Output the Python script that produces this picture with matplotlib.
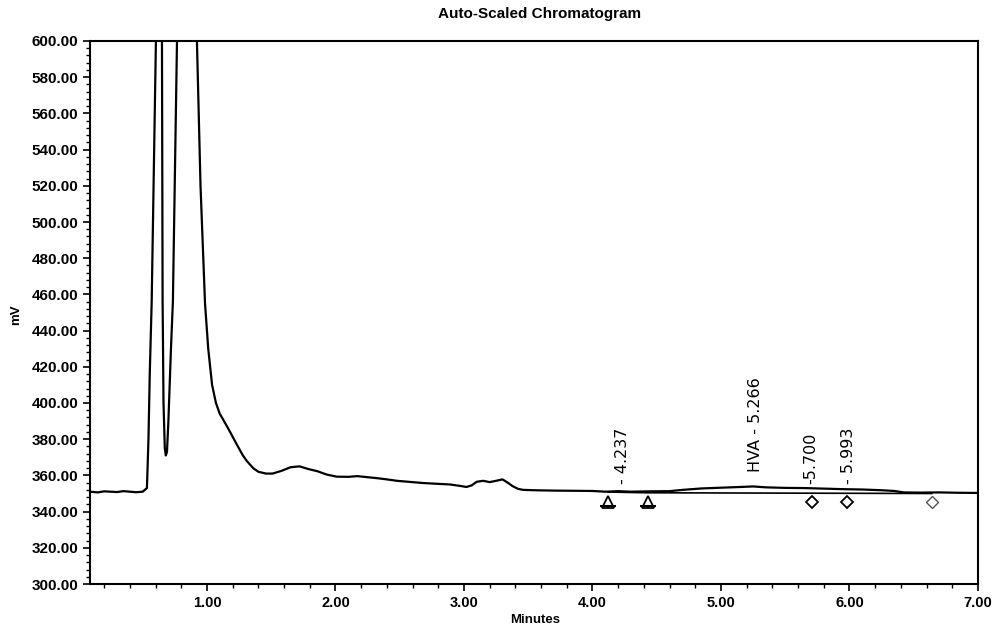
import matplotlib
matplotlib.use("Agg")
import matplotlib.pyplot as plt
from matplotlib.ticker import MultipleLocator, FormatStrFormatter

# ---- data ----
time_min = [0.09, 0.15, 0.20, 0.25, 0.30, 0.35, 0.40, 0.45, 0.50, 0.533,
            0.545, 0.555, 0.57, 0.603, 0.625, 0.650, 0.655, 0.662, 0.672, 0.680,
            0.689, 0.700, 0.720, 0.735, 0.767, 0.80, 0.85, 0.90, 0.922, 0.95,
            0.985, 1.01, 1.04, 1.07, 1.10, 1.125, 1.18, 1.233, 1.28, 1.31,
            1.36, 1.40, 1.46, 1.51, 1.58, 1.65, 1.72, 1.79, 1.86, 1.93,
            2.01, 2.10, 2.17, 2.25, 2.32, 2.40, 2.48, 2.58, 2.68, 2.78,
            2.89, 2.97, 3.02, 3.06, 3.10, 3.15, 3.20, 3.25, 3.30, 3.34,
            3.38, 3.42, 3.46, 3.55, 3.70, 3.85, 4.00, 4.10, 4.20, 4.30,
            4.45, 4.60, 4.70, 4.85, 5.00, 5.15, 5.25, 5.35, 5.50, 5.65,
            5.80, 5.95, 6.10, 6.25, 6.35, 6.42, 6.55, 6.70, 6.85, 7.00]
signal_mv = [351.0, 350.6, 351.2, 351.0, 350.8, 351.3, 351.0, 350.7, 351.0, 353.0,
             380.0, 416.0, 456.0, 600.0, 720.0, 600.0, 456.0, 400.0, 375.0, 371.0,
             373.0, 390.0, 430.0, 456.0, 600.0, 760.0, 820.0, 700.0, 600.0, 520.0,
             455.0, 430.0, 410.0, 400.0, 394.0, 391.0, 384.0, 377.0, 371.0, 368.0,
             364.0, 362.0, 361.0, 361.0, 362.5, 364.5, 365.0, 363.5, 362.3, 360.5,
             359.3, 359.2, 359.6, 359.0, 358.5, 357.8, 357.0, 356.4, 355.8, 355.4,
             355.0, 354.2, 353.6, 354.5, 356.5, 357.0, 356.3, 357.0, 357.8, 356.0,
             354.0, 352.6, 352.0, 351.8, 351.6, 351.5, 351.4, 351.0, 351.3, 351.0,
             351.2, 351.3, 352.0, 352.8, 353.2, 353.6, 353.9, 353.4, 353.1, 353.0,
             352.7, 352.4, 352.2, 351.8, 351.4, 350.6, 350.5, 350.6, 350.4, 350.3]

peak_times = [4.237, 5.266, 5.700, 5.993]
peak_labels = ["- 4.237", "HVA - 5.266", "-5.700", "- 5.993"]
peak_label_base = [355.0, 362.0, 355.0, 355.0]

start_marks_t = [4.12, 4.43]
end_marks_t = [5.71, 5.98, 6.64]
baseline_t = [4.12, 4.43, 6.64]
baseline_mv = [350.8, 350.4, 350.0]

x_ticks = [1.0, 2.0, 3.0, 4.0, 5.0, 6.0, 7.0]
y_ticks = [300, 320, 340, 360, 380, 400, 420, 440, 460, 480, 500, 520, 540, 560, 580, 600]

plt.rcParams["font.family"] = ["Liberation Sans", "DejaVu Sans"]

fig = plt.figure(figsize=(9.95, 6.30), dpi=100)
ax = fig.add_axes([90 / 995, 1 - 584 / 630, (978 - 90) / 995, (584 - 41) / 630])

ax.plot(time_min, signal_mv, color="black", lw=1.6)
ax.plot(baseline_t, baseline_mv, color="black", lw=1.2)

ax.plot(start_marks_t, [345.5] * len(start_marks_t), linestyle="none", marker="^",
        markersize=8, markerfacecolor="white", markeredgecolor="black", markeredgewidth=1.3)
ax.plot(start_marks_t, [343.0] * len(start_marks_t), linestyle="none", marker="_",
        markersize=11, markeredgecolor="black", markeredgewidth=1.5)
ax.plot(end_marks_t[:2], [345.5] * 2, linestyle="none", marker="D",
        markersize=6.5, markerfacecolor="white", markeredgecolor="black", markeredgewidth=1.3)
ax.plot(end_marks_t[2:], [345.5], linestyle="none", marker="D",
        markersize=6, markerfacecolor="white", markeredgecolor="#555555", markeredgewidth=1.0)

for t, lab, yb in zip(peak_times, peak_labels, peak_label_base):
    ax.text(t, yb, lab, rotation=90, ha="center", va="bottom", fontsize=11.5,
            family=["DejaVu Sans"])

ax.set_xlim(0.09, 7.0)
ax.set_ylim(300, 600)
ax.set_xticks(x_ticks)
ax.set_yticks(y_ticks)
ax.xaxis.set_minor_locator(MultipleLocator(0.2))
ax.yaxis.set_minor_locator(MultipleLocator(4))
ax.xaxis.set_major_formatter(FormatStrFormatter("%.2f"))
ax.yaxis.set_major_formatter(FormatStrFormatter("%.2f"))
ax.tick_params(axis="both", which="major", length=5, width=1.2, labelsize=11, direction="out")
ax.tick_params(axis="x", which="major", labelsize=10.5)
ax.tick_params(axis="both", which="minor", length=3, width=1.0, direction="out")
for lbl in ax.get_xticklabels() + ax.get_yticklabels():
    lbl.set_fontweight("bold")
for s in ax.spines.values():
    s.set_linewidth(1.5)

fig.text(540 / 995, 1 - 14 / 630, "Auto-Scaled Chromatogram", ha="center", va="center",
         fontsize=11, fontweight="bold")
fig.text(535 / 995, 1 - 620 / 630, "Minutes", ha="center", va="center",
         fontsize=9.5, fontweight="bold")
fig.text(16 / 995, 1 - 315 / 630, "mV", ha="center", va="center", rotation=90,
         fontsize=9.5, fontweight="bold")

fig.savefig("out.png", dpi=100)
